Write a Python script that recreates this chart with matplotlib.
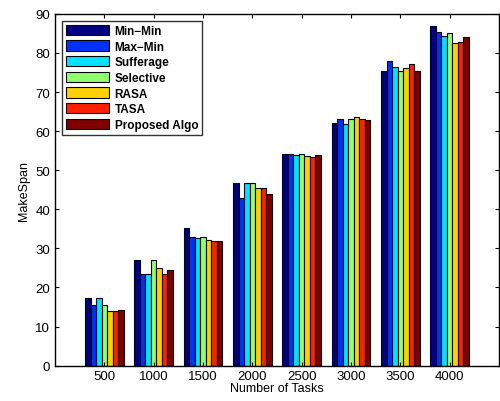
import numpy as np
import matplotlib
matplotlib.use('Agg')
import matplotlib.pyplot as plt

plt.rcParams['font.family'] = ['Liberation Sans', 'DejaVu Sans']

# Datos
tasks = ['500', '1000', '1500', '2000', '2500', '3000', '3500', '4000']
algos = ['Min\u2212Min', 'Max\u2212Min', 'Sufferage', 'Selective', 'RASA', 'TASA', 'Proposed Algo']
min_min = [17.2, 26.9, 35.2, 46.7, 54.2, 62.1, 75.4, 87.0]
max_min = [15.4, 23.4, 32.8, 42.8, 54.2, 63.2, 78.0, 85.4]
sufferage = [17.2, 23.4, 32.7, 46.7, 53.8, 61.8, 76.3, 84.4]
selective = [15.4, 26.9, 32.8, 46.7, 54.1, 63.2, 75.3, 85.2]
rasa = [14.0, 25.1, 32.1, 45.4, 53.7, 63.5, 76.1, 82.5]
tasa = [14.0, 23.4, 31.9, 45.4, 53.4, 63.2, 77.3, 82.8]
proposed = [14.2, 24.5, 32.0, 43.9, 53.8, 62.9, 75.5, 84.1]
series = [min_min, max_min, sufferage, selective, rasa, tasa, proposed]
colors = ['#000080', '#0030FF', '#00E0FF', '#90FF70', '#FFD000', '#FF2000', '#800000']

fig = plt.figure(figsize=(5.0, 4.02), dpi=100)
ax = fig.add_axes([0.11, 0.088, 0.888, 0.875])

x = np.arange(1, len(tasks) + 1)
group_w = 0.78
w = group_w / len(series)
for i, (vals, c, name) in enumerate(zip(series, colors, algos)):
    offs = -group_w / 2 + w * (i + 0.5)
    ax.bar(x + offs, vals, width=w, color=c, edgecolor='black', linewidth=0.8, label=name)

ax.set_xlim(0, 9)
ax.set_ylim(0, 90)
ax.set_xticks(x)
ax.set_xticklabels(tasks)
ax.set_yticks(np.arange(0, 91, 10))
ax.tick_params(direction='in', top=True, right=True, labelsize=9.5, length=3)
ax.set_xlabel('Number of Tasks', fontsize=9, labelpad=0)
ax.set_ylabel('MakeSpan', fontsize=9, labelpad=4)
for s in ax.spines.values():
    s.set_linewidth(1.0)

leg = ax.legend(loc='upper left', bbox_to_anchor=(0.016, 0.981), prop={'weight': 'bold', 'size': 8.5},
                frameon=True, fancybox=False, edgecolor='black', handlelength=3.6, handleheight=0.95,
                labelspacing=0.3, borderpad=0.35, handletextpad=0.5, borderaxespad=0)
leg.get_frame().set_linewidth(1.0)

fig.savefig('out.png', dpi=100)
